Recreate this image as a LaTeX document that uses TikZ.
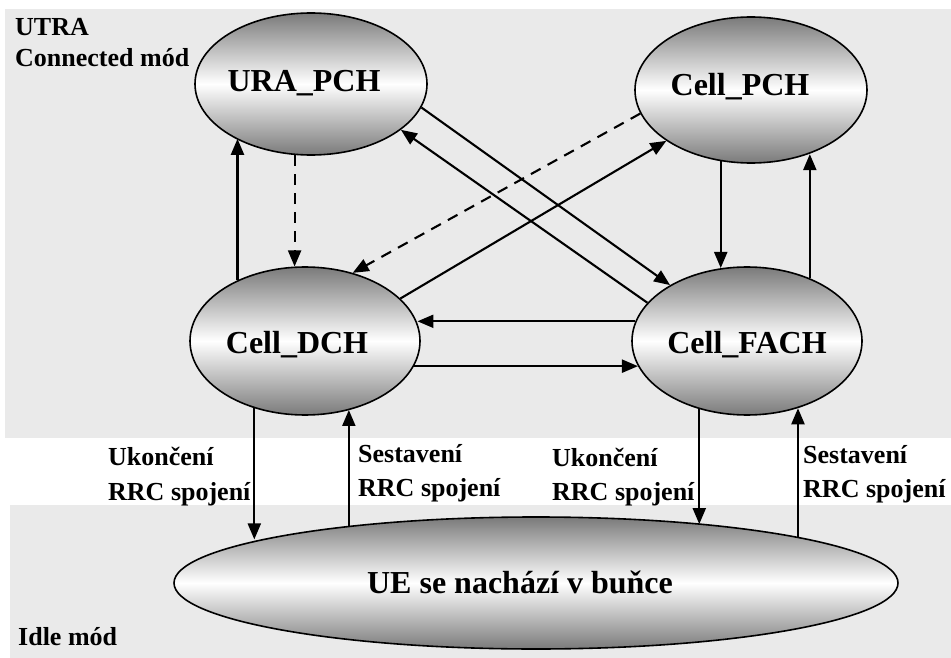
\documentclass[tikz,border=0pt]{standalone}
\usepackage{fontspec}
\setmainfont{Liberation Serif}
\usetikzlibrary{arrows.meta,shapes.geometric}
\definecolor{bggray}{RGB}{234,234,234}
\begin{document}
\begin{tikzpicture}[x=1pt,y=-1pt,
  state/.style={ellipse, draw=black, line width=1.6pt, inner sep=0pt,
    shading=axis, top color=black!52, bottom color=black!52, middle color=white},
  big/.style={font=\fontsize{32}{36}\selectfont\bfseries, inner sep=0pt, anchor=base},
  lbl/.style={font=\fontsize{26}{30}\selectfont\bfseries, inner sep=0pt, anchor=base west},
  arr/.style={line width=2.1pt, -{Triangle[length=16pt,width=13pt]}},
  dsh/.style={dash pattern=on 11pt off 8pt}]
  \useasboundingbox (0,0) rectangle (951,658);
  % background bands
  \fill[white] (0,0) rectangle (951,658);
  \fill[bggray] (5,9) rectangle (951,438);
  \fill[bggray] (10,505) rectangle (951,658);

  % states
  \node[state, minimum width=232pt, minimum height=142pt] (ura) at (311,84) {};
  \node[state, minimum width=232pt, minimum height=146pt] (pch) at (751,90) {};
  \node[state, minimum width=230pt, minimum height=148pt] (dch) at (305,341) {};
  \node[state, minimum width=230pt, minimum height=148pt] (fach) at (747,341) {};
  \node[state, minimum width=724pt, minimum height=132pt] (ue) at (536,583) {};

  \node[big] (uratxt) at (304,92) {URA\_PCH};
  \node[big] (pchtxt) at (740,96) {Cell\_PCH};
  \node[big] (dchtxt) at (297,353) {Cell\_DCH};
  \node[big] (fachtxt) at (747,353) {Cell\_FACH};
  \node[big] (uetxt) at (520,593) {UE se nachází v buňce};

  % vertical transitions
  \draw[arr] (dch.138.7) -- (dch.138.7 |- ura.216.5);
  \draw[arr,dsh] (ura.257.2) -- (ura.257.2 |- dch.97.7);
  \draw[arr] (pch.247.7) -- (pch.247.7 |- fach.109.1);
  \draw[arr] (fach.45.8) -- (fach.45.8 |- pch.-48.1);

  % horizontal transitions
  \draw[arr] (fach.170.3) -- (fach.170.3 -| dch.9.7);
  \draw[arr] (dch.-13.6) -- (dch.-13.6 -| fach.193.6);

  % diagonal transitions
  \draw[arr] (ura.-12.6) -- (fach.144);
  \draw[arr] (fach.159.6) -- (ura.-27.3);
  \draw[arr,dsh] (pch.-168.6) -- (dch.55.7);
  \draw[arr] (dch.24.5) -- (pch.211.7);

  % connection release / establishment
  \draw[arr] (dch.233.8) -- (dch.233.8 |- ue.171.5);
  \draw[arr] (ue.163.2) -- (ue.163.2 |- dch.-57.3);
  \draw[arr] (fach.235.1) -- (fach.235.1 |- ue.19.7);
  \draw[arr] (ue.10.0) -- (ue.10.0 |- fach.-53.8);

  % mode and transition labels
  \node[lbl] (utra) at (15,36) {UTRA};
  \node[lbl] (conn) at (15,67) {Connected mód};
  \node[lbl] (idle) at (18,645) {Idle mód};
  \node[lbl] (uk1a) at (108,465) {Ukončení};
  \node[lbl] (uk1b) at (108,500) {RRC spojení};
  \node[lbl] (se1a) at (358,462) {Sestavení};
  \node[lbl] (se1b) at (358,496) {RRC spojení};
  \node[lbl] (uk2a) at (552,466) {Ukončení};
  \node[lbl] (uk2b) at (552,500) {RRC spojení};
  \node[lbl] (se2a) at (803,463) {Sestavení};
  \node[lbl] (se2b) at (803,497) {RRC spojení};
\end{tikzpicture}
\end{document}
